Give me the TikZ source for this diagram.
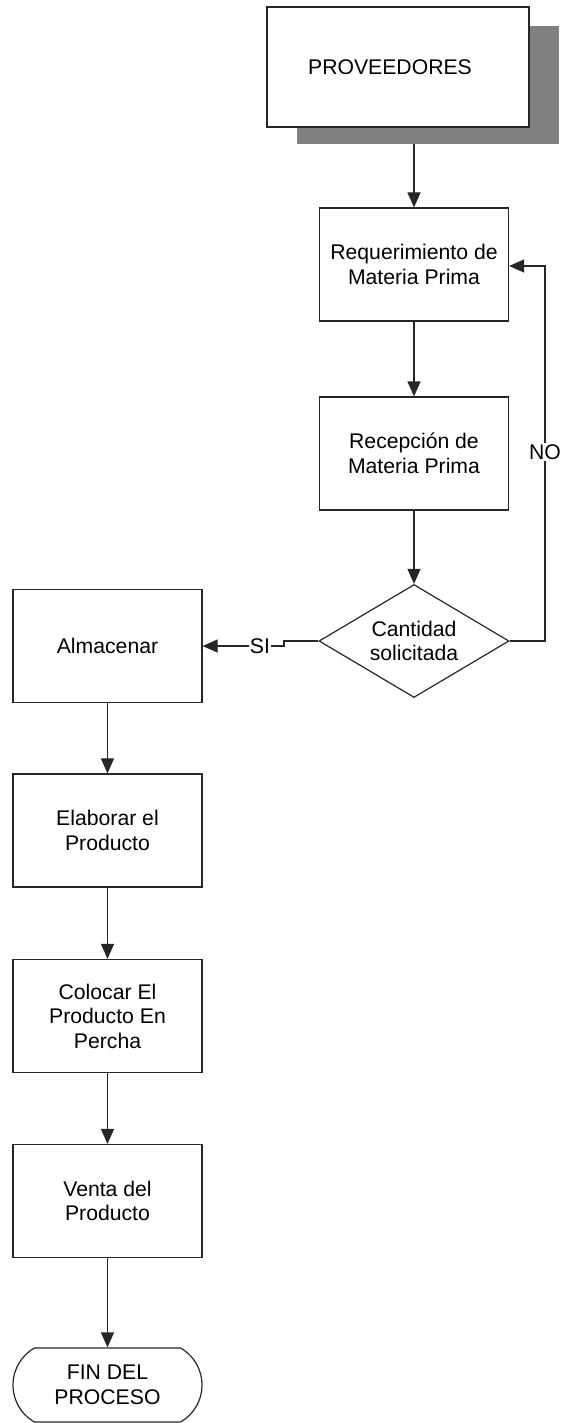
\documentclass[tikz,border=0pt]{standalone}
\usepackage{fontspec}
\setmainfont{Liberation Sans}
\usetikzlibrary{arrows.meta,shapes.geometric,shapes.misc}
\tikzset{
  lbl/.style={font=\fontsize{21.2}{24.5}\selectfont, align=center, text=black},
  box/.style={lbl, draw=black!85, line width=1.2pt, fill=white, minimum width=189pt, minimum height=113pt, inner sep=0pt},
  diam/.style={diamond, draw=black!85, line width=1.2pt, minimum width=190pt, minimum height=113pt, inner sep=0pt},
  term/.style={lbl, rounded rectangle, rounded rectangle arc length=120, draw=black!85, line width=1.2pt, minimum width=189pt, minimum height=74pt, inner sep=0pt},
  shadowbox/.style={fill=black!50, draw=none, minimum width=262pt, minimum height=118pt, inner sep=0pt},
  arr/.style={-{Triangle[length=15pt,width=13pt]}, line width=1.2pt, draw=black!85},
  tag/.style={lbl, fill=white, inner sep=1pt}
}
\begin{document}
\begin{tikzpicture}[x=1pt,y=-1pt]
\useasboundingbox (0,0) rectangle (561,1423);
% shadow + proveedores
\node[shadowbox] (shadow) at (428,85) {};
\node[box, minimum width=262pt, minimum height=120pt] (prov) at (398,67) {PROVEEDORES\hspace*{16pt}};
% right column
\node[box] (req) at (414,264.5) {Requerimiento de\\Materia Prima};
\node[box] (rec) at (414,453.5) {Recepción de\\Materia Prima};
\node[diam] (dia) at (414,641) {};
\node[lbl] (diatext) at (dia.center) {Cantidad\\solicitada};
% left column
\node[box] (alm) at (107.5,646) {Almacenar};
\node[box] (elab) at (107.5,830.5) {Elaborar el\\Producto};
\node[box] (col) at (107.5,1016) {Colocar El\\Producto En\\Percha};
\node[box] (venta) at (107.5,1201) {Venta del\\Producto};
\node[term] (fin) at (107.5,1385) {FIN DEL\\PROCESO};
% connectors
\draw[arr] (shadow.south -| req.north) -- (req.north);
\draw[arr] (req.south) -- (rec.north);
\draw[arr] (rec.south) -- (dia.north);
\coordinate (nob) at (545,641);
\coordinate (not) at (545,266);
\draw[arr] (dia.east) -- (nob) -- (not) -- (req.east |- not);
\node[tag] (no) at (545,452) {NO};
\coordinate (j1) at (284,641);
\coordinate (j2) at (284,646);
\draw[arr] (dia.west) -- (j1) -- (j2) -- (alm.east);
\node[tag] (si) at (260,646) {SI};
\draw[arr] (alm.south) -- (elab.north);
\draw[arr] (elab.south) -- (col.north);
\draw[arr] (col.south) -- (venta.north);
\draw[arr] (venta.south) -- (fin.north);
\end{tikzpicture}
\end{document}
